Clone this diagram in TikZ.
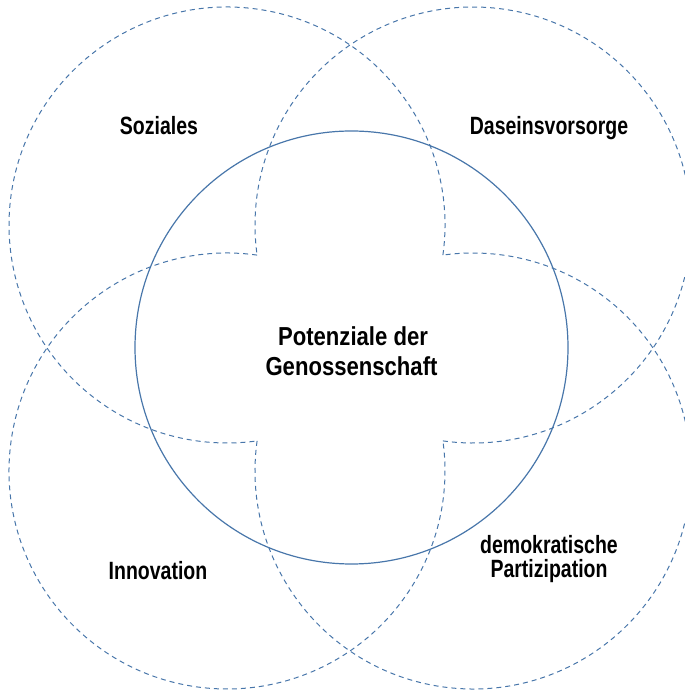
\documentclass[tikz,border=0pt]{standalone}
\usepackage{fontspec}
\setmainfont{Liberation Sans}[FakeStretch=0.78]
\newfontfamily\corefont{Liberation Sans}[FakeStretch=0.85]
\definecolor{ringblue}{RGB}{72,118,170}
\begin{document}
\begin{tikzpicture}[x=1pt,y=1pt,
  dashring/.style={draw=ringblue,line width=1pt,dash pattern=on 5pt off 4pt},
  corering/.style={draw=ringblue,line width=1.2pt},
  lbl/.style={anchor=base,inner sep=0pt,font=\fontsize{25}{30}\selectfont\bfseries},
  corelbl/.style={anchor=base,inner sep=0pt,font=\corefont\fontsize{26}{30}\selectfont\bfseries}]
\clip (0,0) rectangle (685,691);
% centres of the four outer circles
\coordinate (tl) at (227,466);
\coordinate (tr) at (473,466);
\coordinate (bl) at (227,220);
\coordinate (br) at (473,220);
\coordinate (core) at (351.5,343.5);
% dashed outer circles (the part lying in the central cross is left out)
\draw[dashring] (tl) ++(-7.93:218) arc[start angle=-7.93,end angle=277.93,radius=218];
\draw[dashring] (tr) ++(262.07:218) arc[start angle=262.07,end angle=547.93,radius=218];
\draw[dashring] (bl) ++(82.07:218) arc[start angle=82.07,end angle=367.93,radius=218];
\draw[dashring] (br) ++(172.07:218) arc[start angle=172.07,end angle=457.93,radius=218];
% central circle
\draw[corering] (core) circle[radius=216.5];
% labels
\node[lbl] (soz) at (159,556) {Soziales};
\node[lbl] (dasein) at (549,556) {Daseinsvorsorge};
\node[corelbl] (pot1) at (353,345) {Potenziale der};
\node[corelbl] (pot2) at (351.5,315) {Genossenschaft};
\node[lbl] (inno) at (158,111) {Innovation};
\node[lbl] (demo1) at (549,137) {demokratische};
\node[lbl] (demo2) at (549,113) {Partizipation};
\end{tikzpicture}
\end{document}
